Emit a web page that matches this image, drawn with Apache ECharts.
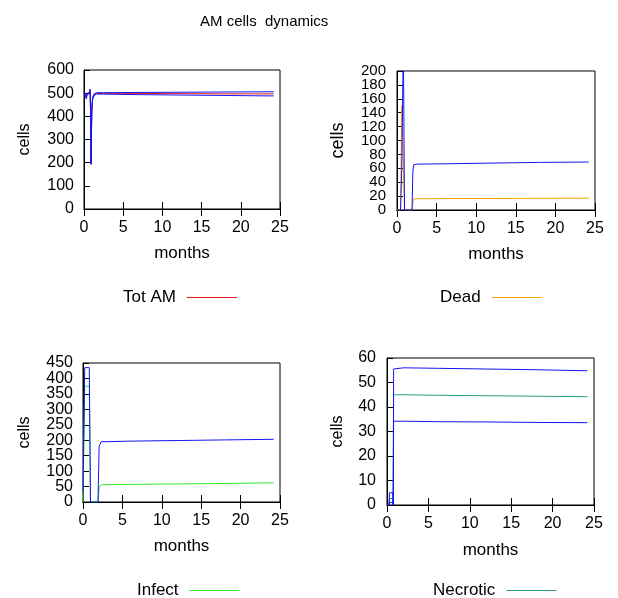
<!DOCTYPE html>
<html>
<head>
<meta charset="utf-8">
<script src="https://cdn.jsdelivr.net/npm/echarts@6/dist/echarts.min.js"></script>
<style>
  html, body { margin: 0; padding: 0; background: #fff; }
  #chart { width: 618px; height: 598px; }
</style>
</head>
<body>
<div id="chart"></div>
<script>
  // tick labels
  var monthTicks = [0, 5, 10, 15, 20, 25]
  var totTicks = [0, 100, 200, 300, 400, 500, 600]
  var deadTicks = [0, 20, 40, 60, 80, 100, 120, 140, 160, 180, 200]
  var infTicks = [0, 50, 100, 150, 200, 250, 300, 350, 400, 450]
  var necTicks = [0, 10, 20, 30, 40, 50, 60]

  // Tot AM panel
  var totMonths = [0, 0.1, 0.2, 0.3, 0.4, 0.55, 0.7, 0.78, 0.85, 0.9, 0.95, 1.0, 1.1, 1.3, 1.6, 2.5, 6, 12, 18, 24.2]
  var totMean = [500, 498, 490, 480, 498, 497, 500, 512, 400, 195, 330, 430, 478, 494, 499, 499, 499, 498, 497, 497]
  var totHi = [502, 500, 493, 483, 500, 500, 503, 518, 405, 198, 335, 435, 483, 498, 502, 502, 503, 504, 505, 506]
  var totLo = [498, 496, 487, 475, 495, 494, 497, 506, 395, 192, 325, 425, 473, 490, 496, 496, 494, 492, 490, 488]

  // Dead panel
  var deadMonths = [0, 0.45, 0.6, 0.8, 0.95, 1.9, 2.0, 2.1, 2.5, 6, 12, 18, 24.2]
  var deadBlue = [0, 0, 60, 240, 0, 0, 55, 65, 66, 66.5, 67.5, 68.5, 69]
  var deadOrange = [0, 0, 150, 60, 0, 0, 10, 16, 16.2, 16.4, 16.6, 16.8, 17]

  // Infect panel
  var infMonths = [0, 0.17, 0.22, 0.4, 0.8, 0.95, 1.9, 2.05, 2.3, 6, 12, 18, 24.2]
  var infBlue = [30, 30, 435, 435, 435, 0, 0, 180, 195, 197, 199, 201, 203]
  var infGreen = [0, 0, 375, 375, 375, 0, 0, 48, 56, 57, 58.5, 60, 62]

  // Necrotic panel
  var necMonths = [0, 0.25, 0.3, 0.7, 0.75, 0.8, 2, 6, 12, 18, 24.2]
  var necHi = [0, 0, 5, 5, 0, 55.5, 56, 55.8, 55.5, 55.2, 54.8]
  var necMean = [0, 0, 2.7, 2.7, 0, 45, 45, 44.8, 44.6, 44.4, 44.2]
  var necLo = [0, 0, 1, 1, 0, 34.2, 34.2, 34, 33.9, 33.7, 33.6]

  var FONT = 'Liberation Sans'
  var BLUE = '#1414f0'

  function pairs(xs, ys) {
    return xs.map(function (x, i) { return [x, ys[i]] })
  }

  var grids = [
    { left: 84, top: 70, width: 196, height: 139 },
    { left: 397, top: 71, width: 198, height: 139 },
    { left: 83, top: 363, width: 197, height: 139 },
    { left: 387, top: 358, width: 207, height: 147 }
  ]
  var yTicks = [totTicks, deadTicks, infTicks, necTicks]
  var yLabelSize = [16, 15, 16, 16]
  var yLabelMargin = [10, 11, 10, 11]
  var cellsGap = [51, 50, 50, 41]
  var cellsSize = [16, 18, 16, 16]
  var monthsGap = [36, 36, 36, 37]

  var xAxes = []
  var yAxes = []
  grids.forEach(function (g, i) {
    var ticks = yTicks[i]
    var yMin = ticks[0], yMax = ticks[ticks.length - 1], yStep = ticks[1] - ticks[0]
    var labelStyle = { margin: yLabelMargin[i], fontFamily: FONT, fontSize: yLabelSize[i], color: '#000' }
    xAxes.push({
      type: 'value', gridIndex: i, min: monthTicks[0], max: monthTicks[monthTicks.length - 1], interval: 5,
      name: 'months', nameLocation: 'middle', nameGap: monthsGap[i],
      nameTextStyle: { fontFamily: FONT, fontSize: 17, color: '#000' },
      axisLine: { show: true, lineStyle: { color: '#000' } },
      axisTick: { inside: true, length: 7, lineStyle: { color: '#000' } },
      axisLabel: { margin: 11, fontFamily: FONT, fontSize: 16, color: '#000', showMinLabel: true, showMaxLabel: true },
      splitLine: { show: false }
    })
    xAxes.push({
      type: 'value', gridIndex: i, position: 'top', min: 0, max: 25, interval: 5,
      axisLine: { show: true, lineStyle: { color: '#000' } },
      axisTick: { inside: true, length: 7, lineStyle: { color: '#000' } },
      axisLabel: { show: false },
      splitLine: { show: false }
    })
    // main y axis: line, ticks, name and every other label
    yAxes.push({
      type: 'value', gridIndex: i, position: 'left', min: yMin, max: yMax, interval: yStep,
      name: 'cells', nameLocation: 'middle', nameGap: cellsGap[i],
      nameTextStyle: { fontFamily: FONT, fontSize: cellsSize[i], color: '#000' },
      axisLine: { show: true, lineStyle: { color: '#000' } },
      axisTick: { inside: true, length: 6, customValues: ticks, lineStyle: { color: '#000' } },
      axisLabel: Object.assign({ customValues: ticks.filter(function (v, k) { return k % 2 === 0 }) }, labelStyle),
      splitLine: { show: false }
    })
    // companion axis carrying the remaining labels, so none get dropped for overlap
    yAxes.push({
      type: 'value', gridIndex: i, position: 'left', min: yMin, max: yMax, interval: yStep,
      axisLine: { show: false }, axisTick: { show: false },
      axisLabel: Object.assign({ customValues: ticks.filter(function (v, k) { return k % 2 === 1 }) }, labelStyle),
      splitLine: { show: false }
    })
  })

  function line(name, grid, xs, ys, color) {
    return {
      name: name, type: 'line', xAxisIndex: grid * 2, yAxisIndex: grid * 2,
      data: pairs(xs, ys), symbol: 'none', clip: true,
      lineStyle: { color: color, width: 1 }, itemStyle: { color: color }
    }
  }

  function legend(name, left, top) {
    return {
      data: [name], left: left, top: top, align: 'right', icon: 'rect',
      itemWidth: 50, itemHeight: 1, selectedMode: false,
      textStyle: { fontFamily: FONT, fontSize: 17, color: '#000', padding: [0, 6, 0, 0] }
    }
  }

  var chart = echarts.init(document.getElementById('chart'))
  chart.setOption({
    animation: false,
    title: {
      text: 'AM cells  dynamics', left: 195, top: 9,
      textStyle: { fontFamily: FONT, fontSize: 15, fontWeight: 'normal', color: '#000' }
    },
    grid: grids.map(function (g) {
      return Object.assign({ show: true, borderColor: '#000', borderWidth: 1, containLabel: false }, g)
    }),
    xAxis: xAxes,
    yAxis: yAxes,
    legend: [
      legend('Tot AM', 118, 284),
      legend('Dead', 435, 284),
      legend('Infect', 132, 577),
      legend('Necrotic', 428, 577)
    ],
    series: [
      line('Tot AM', 0, totMonths, totMean, '#e41a1c'),
      line('Tot AM hi', 0, totMonths, totHi, BLUE),
      line('Tot AM lo', 0, totMonths, totLo, BLUE),
      line('Dead', 1, deadMonths, deadOrange, '#f5a300'),
      line('Dead blue', 1, deadMonths, deadBlue, BLUE),
      line('Infect', 2, infMonths, infGreen, '#2ee82e'),
      line('Infect blue', 2, infMonths, infBlue, BLUE),
      line('Necrotic', 3, necMonths, necMean, '#269c80'),
      line('Necrotic hi', 3, necMonths, necHi, BLUE),
      line('Necrotic lo', 3, necMonths, necLo, BLUE)
    ]
  })
</script>
</body>
</html>
